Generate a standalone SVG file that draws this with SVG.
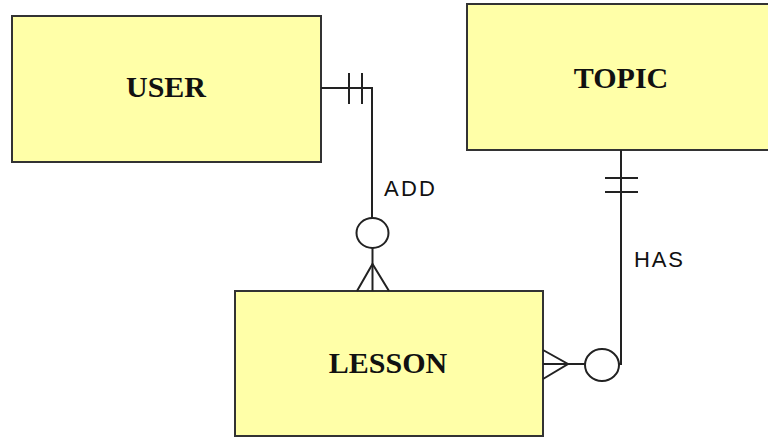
<svg xmlns="http://www.w3.org/2000/svg" width="768" height="437" viewBox="0 0 768 437">
<style>
.ent{fill:#FFFFA8;stroke:#333;stroke-width:2}
.name{font-family:"Liberation Serif",serif;font-weight:bold;font-size:30px;fill:#111;text-anchor:middle}
.lbl{font-family:"Liberation Sans",sans-serif;font-size:22px;fill:#111}
.ln{fill:none;stroke:#222;stroke-width:2}
</style>
<rect width="768" height="437" fill="#fff"/>
<g id="user">
<rect class="ent" x="12" y="16" width="309" height="146"/>
<text class="name" x="166" y="97">USER</text>
</g>
<g id="topic">
<rect class="ent" x="467" y="4" width="310" height="146"/>
<text class="name" x="621" y="88">TOPIC</text>
</g>
<g id="lesson">
<rect class="ent" x="235" y="291" width="308" height="145"/>
<text class="name" x="388" y="373">LESSON</text>
</g>
<g id="connectors">
<g id="add">
<polyline class="ln" points="321,88 372,88 372,218"/>
<line class="ln" x1="349" y1="73" x2="349" y2="104"/>
<line class="ln" x1="362" y1="73" x2="362" y2="104"/>
<ellipse class="ln" cx="372.5" cy="233" rx="16" ry="15"/>
<line class="ln" x1="372.5" y1="248" x2="372.5" y2="291"/>
<polyline class="ln" points="357,291 372.5,264 389,291"/>
<text class="lbl" x="384" y="196" textLength="51">ADD</text>
</g>
<g id="has">
<polyline class="ln" points="621,150 621,364 619,364"/>
<line class="ln" x1="605" y1="178" x2="638" y2="178"/>
<line class="ln" x1="605" y1="192" x2="638" y2="192"/>
<ellipse class="ln" cx="602" cy="365" rx="17" ry="16"/>
<line class="ln" x1="585" y1="364" x2="543" y2="364"/>
<polyline class="ln" points="543,350 568,364 543,379"/>
<text class="lbl" x="634" y="267" textLength="49">HAS</text>
</g>
</g>
</svg>
